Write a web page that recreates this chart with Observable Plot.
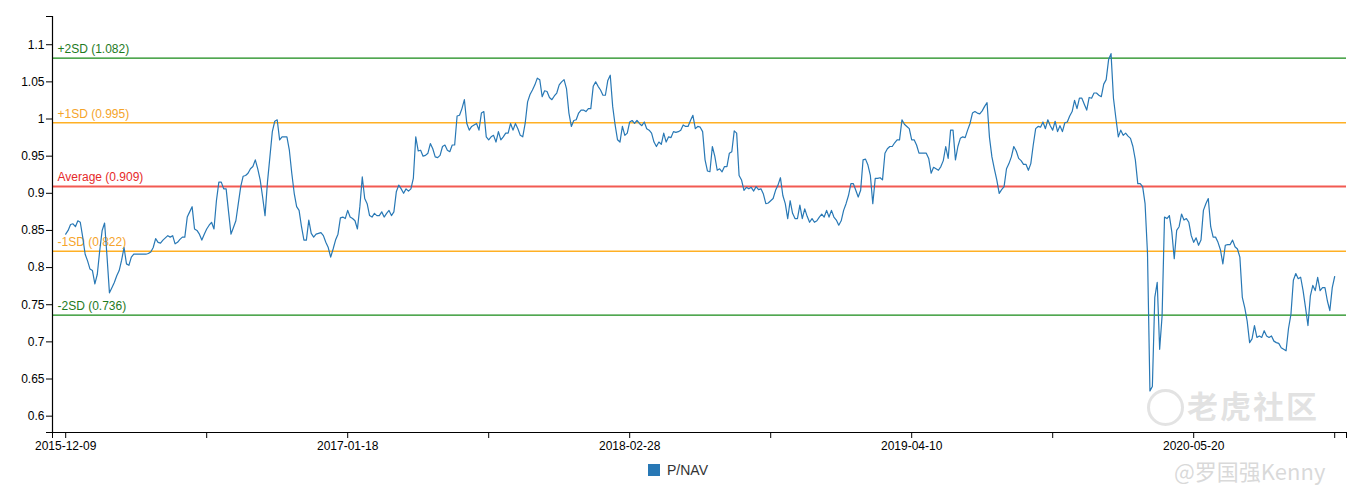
<!DOCTYPE html>
<html><head><meta charset="utf-8">
<script src="https://cdn.jsdelivr.net/npm/d3@7"></script>
<script src="https://cdn.jsdelivr.net/npm/@observablehq/plot@0.6"></script>
<style>
body{margin:0;background:#fff;font-family:"Liberation Sans",Arial,sans-serif;}
#wrap{position:relative;width:1362px;height:487px;overflow:hidden;}
#chart svg{display:block;}
#legend{position:absolute;left:648px;top:462px;font-size:14px;line-height:16px;color:#333;display:flex;align-items:center;}
#legend span.sw{display:inline-block;width:12px;height:12px;background:#2878b5;margin-right:7px;}
.wm{position:absolute;pointer-events:none;font-family:"Noto Sans CJK SC",sans-serif;white-space:nowrap;}
</style></head><body>
<div id="wrap">
<div id="chart"></div>
<div id="legend"><span class="sw"></span><span>P/NAV</span></div>
<div class="wm" style="left:1147px;top:389px;width:31px;height:31px;border:3px solid rgba(200,200,200,0.5);border-radius:50%;"></div>
<div class="wm" style="left:1187px;top:388px;font-size:31px;line-height:34px;font-weight:700;color:rgba(190,190,190,0.45);letter-spacing:2px;">老虎社区</div>
<div class="wm" style="left:1174px;top:459px;font-size:22px;line-height:22px;color:rgba(180,180,180,0.5);">@罗国强Kenny</div>
</div>
<script>
const startDate = "2015-12-09";
// P/NAV readings every half week (3.5 days) from startDate
const pnav = [
0.845,0.850,0.858,0.859,0.855,0.863,0.861,0.841,0.818,0.809,
0.798,0.796,0.778,0.791,0.823,0.850,0.860,0.815,0.766,0.773,
0.780,0.789,0.796,0.810,0.827,0.805,0.803,0.814,0.818,0.818,
0.818,0.818,0.818,0.818,0.819,0.821,0.827,0.839,0.834,0.833,
0.837,0.840,0.843,0.841,0.843,0.832,0.834,0.838,0.841,0.841,
0.868,0.875,0.882,0.852,0.850,0.845,0.837,0.845,0.852,0.857,
0.861,0.852,0.890,0.915,0.915,0.906,0.906,0.875,0.845,0.854,
0.863,0.886,0.909,0.923,0.924,0.927,0.933,0.936,0.945,0.933,
0.918,0.895,0.870,0.915,0.949,0.983,0.997,0.999,0.972,0.976,
0.976,0.976,0.958,0.927,0.900,0.882,0.877,0.855,0.837,0.837,
0.864,0.846,0.841,0.845,0.846,0.847,0.843,0.834,0.827,0.814,
0.825,0.837,0.845,0.867,0.868,0.866,0.877,0.868,0.866,0.863,
0.852,0.882,0.922,0.893,0.886,0.870,0.868,0.873,0.870,0.870,
0.875,0.868,0.873,0.877,0.870,0.875,0.902,0.911,0.906,0.900,
0.906,0.903,0.906,0.920,0.976,0.957,0.958,0.950,0.951,0.954,
0.967,0.960,0.949,0.948,0.951,0.963,0.965,0.958,0.956,0.965,
0.965,1.004,1.005,1.014,1.026,0.994,0.985,0.990,0.992,0.994,
0.985,1.008,1.010,0.976,0.972,0.976,0.978,0.969,0.983,0.972,
0.976,0.981,0.981,0.994,0.985,0.994,0.987,0.978,0.976,0.994,
1.023,1.033,1.039,1.046,1.055,1.053,1.030,1.038,1.037,1.029,
1.026,1.031,1.035,1.046,1.050,1.053,1.041,1.008,0.990,0.998,
0.999,1.008,1.012,1.012,1.010,1.014,1.014,1.044,1.050,1.044,
1.039,1.032,1.032,1.052,1.059,1.017,0.992,0.972,0.969,0.990,
0.978,0.981,0.996,0.998,0.994,0.998,0.994,0.991,0.996,0.987,
0.985,0.981,0.969,0.963,0.969,0.966,0.981,0.969,0.976,0.975,
0.983,0.982,0.983,0.985,0.992,0.990,0.990,0.998,1.005,0.987,
0.990,0.989,0.983,0.945,0.930,0.929,0.963,0.950,0.931,0.933,
0.929,0.936,0.936,0.954,0.956,0.984,0.981,0.924,0.918,0.904,
0.908,0.906,0.908,0.903,0.909,0.905,0.906,0.899,0.886,0.887,
0.890,0.893,0.904,0.911,0.921,0.897,0.886,0.866,0.890,0.873,
0.866,0.866,0.884,0.866,0.879,0.869,0.861,0.866,0.861,0.863,
0.868,0.872,0.868,0.877,0.868,0.877,0.868,0.864,0.857,0.863,
0.877,0.886,0.897,0.913,0.913,0.904,0.895,0.904,0.945,0.946,
0.938,0.924,0.886,0.920,0.920,0.921,0.918,0.954,0.960,0.963,
0.963,0.968,0.972,0.972,0.999,0.993,0.990,0.987,0.972,0.972,
0.965,0.954,0.954,0.954,0.954,0.947,0.927,0.935,0.933,0.931,
0.936,0.944,0.963,0.947,0.985,0.985,0.945,0.963,0.974,0.976,
0.975,0.985,0.994,1.008,1.010,1.008,1.007,1.011,1.017,1.022,
0.975,0.949,0.933,0.918,0.900,0.905,0.909,0.933,0.940,0.949,
0.963,0.957,0.947,0.944,0.939,0.939,0.931,0.940,0.965,0.987,
0.990,0.989,0.996,0.987,0.999,0.991,0.985,0.997,0.983,0.991,
0.983,0.995,0.996,1.004,1.010,1.025,1.014,1.028,1.028,1.020,
1.012,1.029,1.028,1.035,1.035,1.032,1.030,1.047,1.053,1.080,
1.088,1.028,1.001,0.976,0.985,0.978,0.981,0.977,0.974,0.963,
0.945,0.913,0.913,0.909,0.886,0.819,0.634,0.640,0.760,0.780,
0.690,0.735,0.868,0.866,0.870,0.848,0.812,0.850,0.855,0.872,
0.864,0.866,0.861,0.843,0.834,0.840,0.830,0.837,0.877,0.886,
0.893,0.855,0.841,0.841,0.834,0.824,0.805,0.830,0.831,0.831,
0.837,0.828,0.825,0.814,0.760,0.746,0.728,0.699,0.704,0.722,
0.706,0.708,0.706,0.715,0.708,0.706,0.708,0.701,0.699,0.698,
0.692,0.690,0.688,0.718,0.737,0.783,0.792,0.785,0.787,0.769,
0.746,0.722,0.762,0.776,0.769,0.787,0.769,0.773,0.773,0.755,
0.742,0.773,0.788
];
const labeledTicks = ["2015-12-09","2017-01-18","2018-02-28","2019-04-10","2020-05-20"];
const minorTicks = ["2016-06-29","2017-08-09","2018-09-19","2019-10-30","2020-12-09"];
const xDomain = ["2015-11-20","2020-12-26"];
const yDomain = [0.578, 1.138];
const yTicks = [0.6,0.65,0.7,0.75,0.8,0.85,0.9,0.95,1,1.05,1.1];
const bandNames = ["+2SD","+1SD","Average","-1SD","-2SD"];
const bandValues = [1.082,0.995,0.909,0.822,0.736];
const bandLineColors = ["#168a16","#ffb024","#f25a52","#ffb024","#168a16"];
const bandTextColors = ["#1e7a1e","#f5a42a","#e62a2a","#f5a42a","#1e7a1e"];

const parse = d3.utcParse("%Y-%m-%d");
const fmt = d3.utcFormat("%Y-%m-%d");
const start = parse(startDate);
const data = pnav.map((v,i)=>({date:d3.utcHour.offset(start, 84*i), value:v}));
const bands = bandNames.map((n,i)=>({name:n, value:bandValues[i], line:bandLineColors[i], text:bandTextColors[i],
  width: n==="Average"?2:1.3, label:`${n} (${bandValues[i].toFixed(3)})`}));
const labelSet = new Set(labeledTicks);
const xd = xDomain.map(parse);
const xTickVals = [xd[0], ...[...labeledTicks, ...minorTicks].map(parse), xd[1]];
const yTickVals = [yDomain[0], ...yTicks, yDomain[1]];

const plot = Plot.plot({
  width:1362, height:455,
  marginLeft:52, marginRight:16, marginTop:16, marginBottom:23,
  style:{fontFamily:"'Liberation Sans', Arial, sans-serif", fontSize:"12px", color:"#000", background:"#fff", overflow:"visible"},
  x:{type:"utc", domain:xd, ticks:xTickVals, tickSize:6, tickPadding:3,
     tickFormat:d=> labelSet.has(fmt(d)) ? fmt(d) : "", label:null},
  y:{domain:yDomain, ticks:yTickVals, tickSize:6, tickPadding:2,
     tickFormat:d=> yTicks.includes(d) ? String(d) : "", label:null},
  marks:[
    Plot.ruleY(bands, {y:"value", stroke:"line", strokeWidth:"width"}),
    Plot.text(bands, {y:"value", text:"label", fill:"text", frameAnchor:"left", textAnchor:"start", dx:5, dy:-9, fontSize:12}),
    Plot.line(data, {x:"date", y:"value", stroke:"#2878b5", strokeWidth:1.2}),
    Plot.ruleY([yDomain[0]], {stroke:"#000", strokeWidth:1.2}),
    Plot.ruleX([xd[0]], {stroke:"#000", strokeWidth:1.2})
  ]
});
document.getElementById("chart").appendChild(plot);
</script>
</body></html>
